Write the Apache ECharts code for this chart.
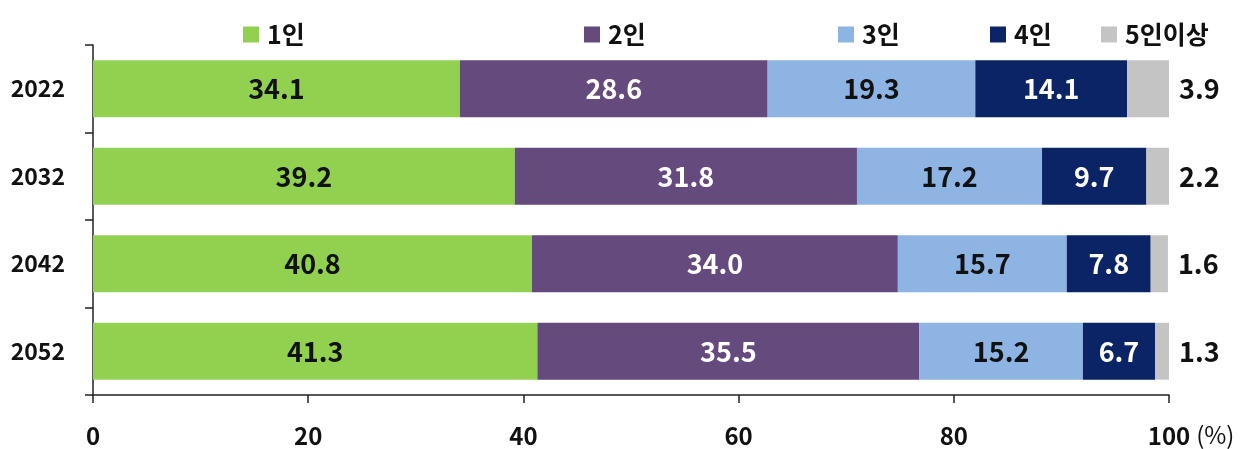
<!DOCTYPE html>
<html>
<head>
<meta charset="utf-8">
<script src="https://cdn.jsdelivr.net/npm/echarts@6/dist/echarts.min.js"></script>
<style>
  html, body { margin: 0; padding: 0; background: #fff; }
  #chart { width: 1251px; height: 449px; }
</style>
</head>
<body>
<div id="chart"></div>
<script>
const years = ['2022', '2032', '2042', '2052']
const seriesNames = ['1인', '2인', '3인', '4인', '5인이상']
const onePerson = [34.1, 39.2, 40.8, 41.3]
const twoPerson = [28.6, 31.8, 34.0, 35.5]
const threePerson = [19.3, 17.2, 15.7, 15.2]
const fourPerson = [14.1, 9.7, 7.8, 6.7]
const fivePlus = [3.9, 2.2, 1.6, 1.3]

const values = [onePerson, twoPerson, threePerson, fourPerson, fivePlus]
const colors = ['#92D050', '#654A7D', '#8DB4E2', '#0A2466', '#C4C4C4']
const labelColors = ['#111', '#fff', '#111', '#fff', '#111']
const legendLeft = [238, 579, 833, 985, 1096]
const font = '"Noto Sans CJK KR", "Noto Sans", sans-serif'

const chart = echarts.init(document.getElementById('chart'))

const legends = seriesNames.map((name, i) => ({
  data: [name],
  left: legendLeft[i],
  top: 17,
  itemWidth: 16,
  itemHeight: 16,
  itemGap: 0,
  icon: 'rect',
  selectedMode: false,
  textStyle: { fontFamily: font, fontSize: 25, fontWeight: 'bold', color: '#111', padding: [0, 0, 0, 3] }
}))

const series = seriesNames.map((name, i) => ({
  name: name,
  type: 'bar',
  stack: 'total',
  barWidth: '65%',
  itemStyle: { color: colors[i] },
  label: {
    show: true,
    position: i === 4 ? 'right' : 'inside',
    distance: 10,
    color: labelColors[i],
    fontFamily: font,
    fontSize: 27,
    fontWeight: 'bold',
    formatter: p => p.value.toFixed(1)
  },
  data: values[i]
}))

chart.setOption({
  backgroundColor: '#fff',
  animation: false,
  legend: legends,
  grid: { left: 93, right: 82, top: 45, bottom: 54, containLabel: false },
  xAxis: {
    type: 'value',
    min: 0,
    max: 100,
    interval: 20,
    name: '(%)',
    nameLocation: 'end',
    nameGap: 27,
    nameTextStyle: {
      fontFamily: font, fontSize: 24, color: '#111',
      align: 'left', verticalAlign: 'top', padding: [28, 0, 0, 0]
    },
    axisLine: { show: true, lineStyle: { color: '#222', width: 1.5 } },
    axisTick: { show: true, length: 8, lineStyle: { color: '#222', width: 1.5 } },
    splitLine: { show: false },
    axisLabel: {
      margin: 29,
      fontFamily: font, fontSize: 24, fontWeight: 'bold', color: '#111',
      formatter: v => String(v)
    }
  },
  yAxis: {
    type: 'category',
    inverse: true,
    data: years,
    axisLine: { show: true, lineStyle: { color: '#222', width: 1.5 } },
    axisTick: { show: true, length: 8, lineStyle: { color: '#222', width: 1.5 } },
    axisLabel: {
      margin: 28,
      fontFamily: font, fontSize: 23, fontWeight: 'bold', color: '#111'
    }
  },
  series: series
})
</script>
</body>
</html>
